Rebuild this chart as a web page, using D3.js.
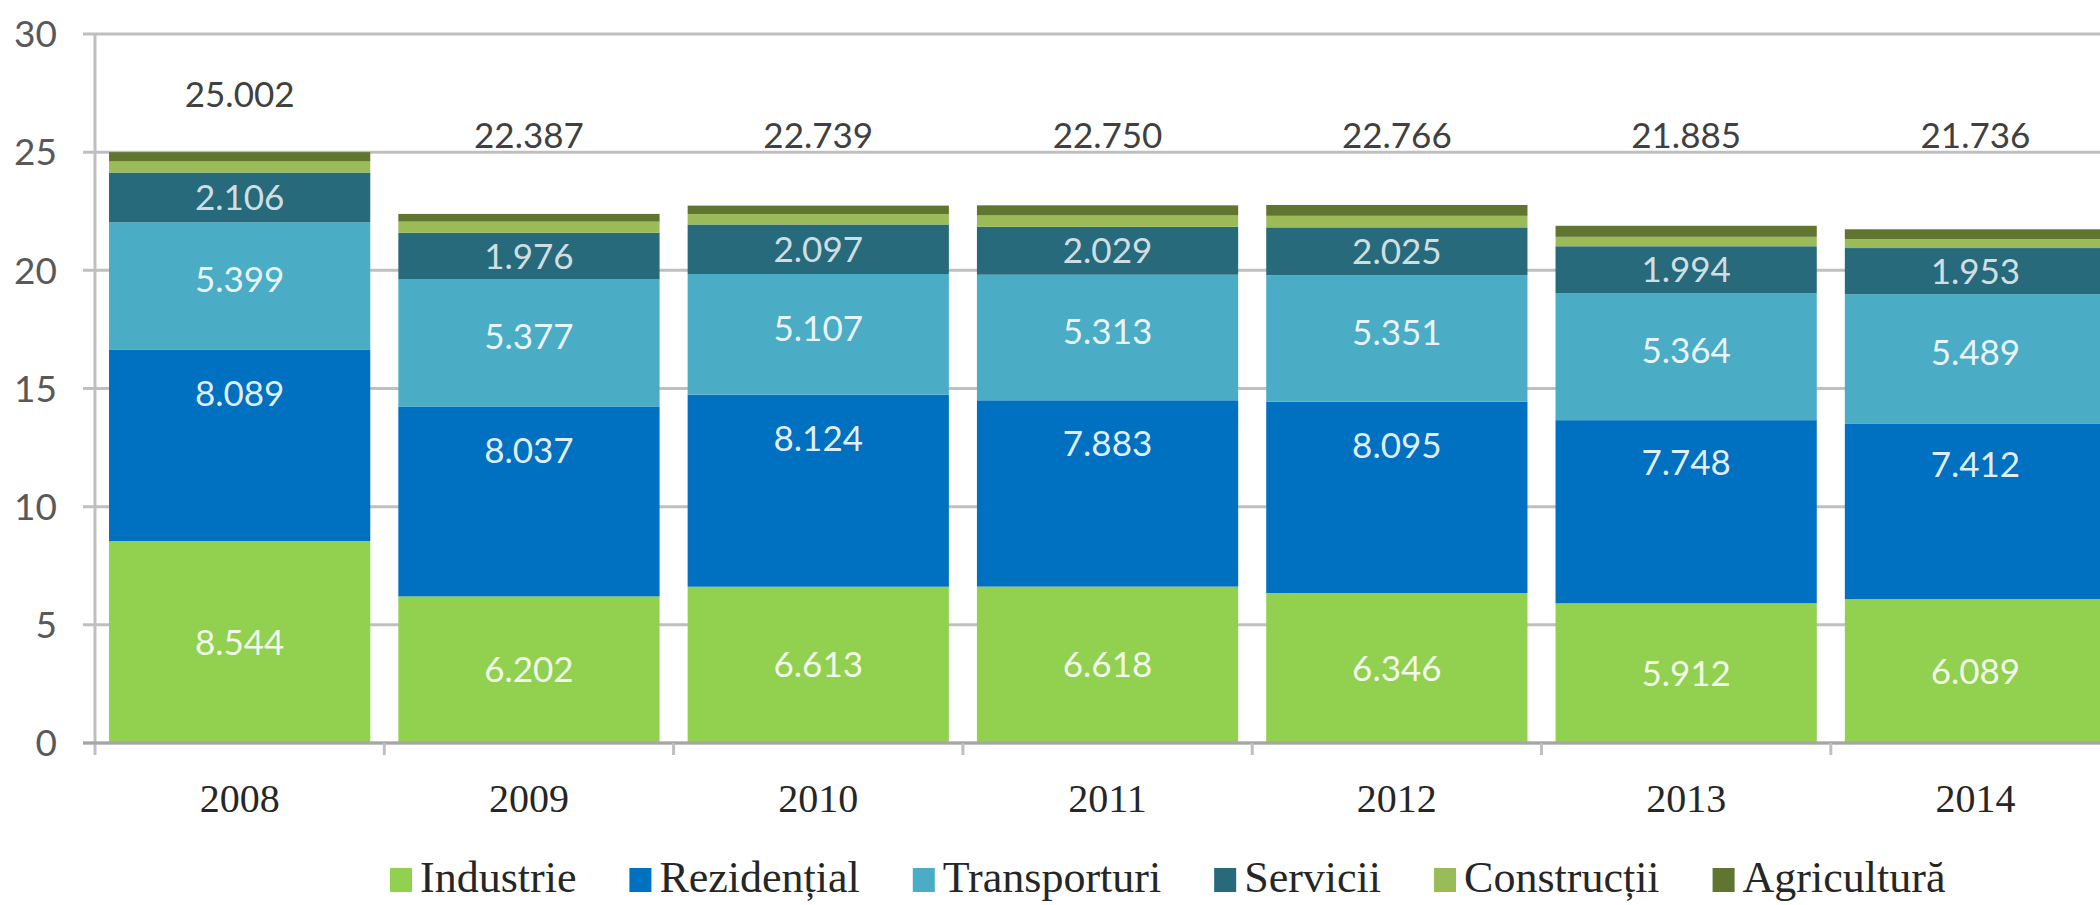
<!DOCTYPE html>
<html>
<head>
<meta charset="utf-8">
<script src="https://cdn.jsdelivr.net/npm/d3@7"></script>
<style>
  body { margin: 0; background: #fff; }
  svg { display: block; }
</style>
</head>
<body>
<div id="chart"></div>
<script>
// data
const years = ["2008", "2009", "2010", "2011", "2012", "2013", "2014"];
const industrie    = [8.544, 6.202, 6.613, 6.618, 6.346, 5.912, 6.089];
const rezidential  = [8.089, 8.037, 8.124, 7.883, 8.095, 7.748, 7.412];
const transporturi = [5.399, 5.377, 5.107, 5.313, 5.351, 5.364, 5.489];
const servicii     = [2.106, 1.976, 2.097, 2.029, 2.025, 1.994, 1.953];
const constructii  = [0.470, 0.470, 0.440, 0.480, 0.490, 0.400, 0.380];
const agricultura  = [0.394, 0.325, 0.358, 0.427, 0.459, 0.467, 0.413];
const totals       = [25.002, 22.387, 22.739, 22.750, 22.766, 21.885, 21.736];
const seriesNames  = ["Industrie", "Rezidențial", "Transporturi", "Servicii", "Construcții", "Agricultură"];
const yTicks = [0, 5, 10, 15, 20, 25, 30];

const colors = ["#92D050", "#0070C0", "#4BACC6", "#266A7B", "#9BBB59", "#5F7530"];
// where inside each segment the value label sits (0 = bottom, 1 = top)
const labelPos = [0.5, 0.77, 0.55, 0.5];

// set dimensions
const W = 2100, H = 905;
const left = 95, step = 289.3, y0px = 743, y30px = 34;

const svg = d3.select("#chart")
  .append("svg")
    .attr("width", W)
    .attr("height", H);

// build rows for the stack
const columns = [industrie, rezidential, transporturi, servicii, constructii, agricultura];
const rows = years.map((yr, i) => {
  const r = { year: yr, total: totals[i] };
  seriesNames.forEach((s, k) => r[s] = columns[k][i]);
  return r;
});
const stacked = d3.stack().keys(seriesNames)(rows);

// scales
const x = d3.scaleBand()
  .domain(years)
  .range([left, left + step * years.length])
  .paddingInner(0.097)
  .paddingOuter(0.0485);

const y = d3.scaleLinear()
  .domain([0, 30])
  .range([y0px, y30px]);

// gridlines
svg.append("g")
  .selectAll("line")
  .data(yTicks)
  .enter()
  .append("line")
    .attr("x1", left - 12)
    .attr("x2", W)
    .attr("y1", d => y(d))
    .attr("y2", d => y(d))
    .attr("stroke", "#BFBFBF")
    .attr("stroke-width", 3);

// y tick labels
svg.append("g")
  .selectAll("text")
  .data(yTicks)
  .enter()
  .append("text")
    .attr("x", 57)
    .attr("y", d => y(d))
    .attr("dy", "0.36em")
    .attr("text-anchor", "end")
    .attr("font-family", "Lato, 'Open Sans', sans-serif")
    .attr("font-size", "37px")
    .attr("fill", "#595959")
    .text(d => d);

// stacked bars
svg.append("g")
  .selectAll("g")
  .data(stacked)
  .enter()
  .append("g")
    .attr("fill", (d, i) => colors[i])
  .selectAll("rect")
  .data(d => d)
  .enter()
  .append("rect")
    .attr("x", d => x(d.data.year))
    .attr("y", d => y(d[1]))
    .attr("width", x.bandwidth())
    .attr("height", d => y(d[0]) - y(d[1]));

// axis lines and category ticks
svg.append("line")
  .attr("x1", left).attr("x2", left)
  .attr("y1", y(30)).attr("y2", y(0) + 12)
  .attr("stroke", "#BFBFBF").attr("stroke-width", 3);

svg.append("line")
  .attr("x1", left - 12).attr("x2", W)
  .attr("y1", y(0)).attr("y2", y(0))
  .attr("stroke", "#A6A6A6").attr("stroke-width", 3);

svg.append("g")
  .selectAll("line")
  .data(d3.range(1, years.length + 1))
  .enter()
  .append("line")
    .attr("x1", i => left + x.step() * i)
    .attr("x2", i => left + x.step() * i)
    .attr("y1", y(0))
    .attr("y2", y(0) + 12)
    .attr("stroke", "#BFBFBF")
    .attr("stroke-width", 3);

// year labels
svg.append("g")
  .selectAll("text")
  .data(years)
  .enter()
  .append("text")
    .attr("x", d => x(d) + x.bandwidth() / 2)
    .attr("y", 812)
    .attr("text-anchor", "middle")
    .attr("font-family", "'Liberation Serif', serif")
    .attr("font-size", "40px")
    .attr("fill", "#262626")
    .text(d => d);

// value labels inside the first four segments
const fmt = d3.format(".3f");
stacked.slice(0, 4).forEach((layer, k) => {
  svg.append("g")
    .selectAll("text")
    .data(layer)
    .enter()
    .append("text")
      .attr("x", d => x(d.data.year) + x.bandwidth() / 2)
      .attr("y", d => y(d[0] + (d[1] - d[0]) * labelPos[k]))
      .attr("dy", "0.36em")
      .attr("text-anchor", "middle")
      .attr("font-family", "Lato, 'Open Sans', sans-serif")
      .attr("font-size", "35px")
      .attr("fill", "#fff")
      .attr("fill-opacity", k === 3 ? 0.8 : 0.9)
      .text(d => fmt(d.data[seriesNames[k]]));
});

// totals above the bars
svg.append("g")
  .selectAll("text")
  .data(rows)
  .enter()
  .append("text")
    .attr("x", d => x(d.year) + x.bandwidth() / 2)
    .attr("y", d => y(Math.max(d.total + 2.45, 25.7)))
    .attr("dy", "0.36em")
    .attr("text-anchor", "middle")
    .attr("font-family", "Lato, 'Open Sans', sans-serif")
    .attr("font-size", "35px")
    .attr("fill", "#404040")
    .text(d => fmt(d.total));

// legend
const legend = svg.append("g").attr("transform", "translate(390, 876)");
let lx = 0;
seriesNames.forEach((s, i) => {
  const item = legend.append("g").attr("transform", `translate(${lx}, 0)`);
  item.append("rect")
    .attr("x", 0).attr("y", -8)
    .attr("width", 22).attr("height", 24)
    .attr("fill", colors[i]);
  const t = item.append("text")
    .attr("x", 30)
    .attr("y", 16)
    .attr("font-family", "'Liberation Serif', serif")
    .attr("font-size", "44px")
    .attr("fill", "#262626")
    .text(s);
  lx += 30 + t.node().getComputedTextLength() + 53;
});
</script>
</body>
</html>
